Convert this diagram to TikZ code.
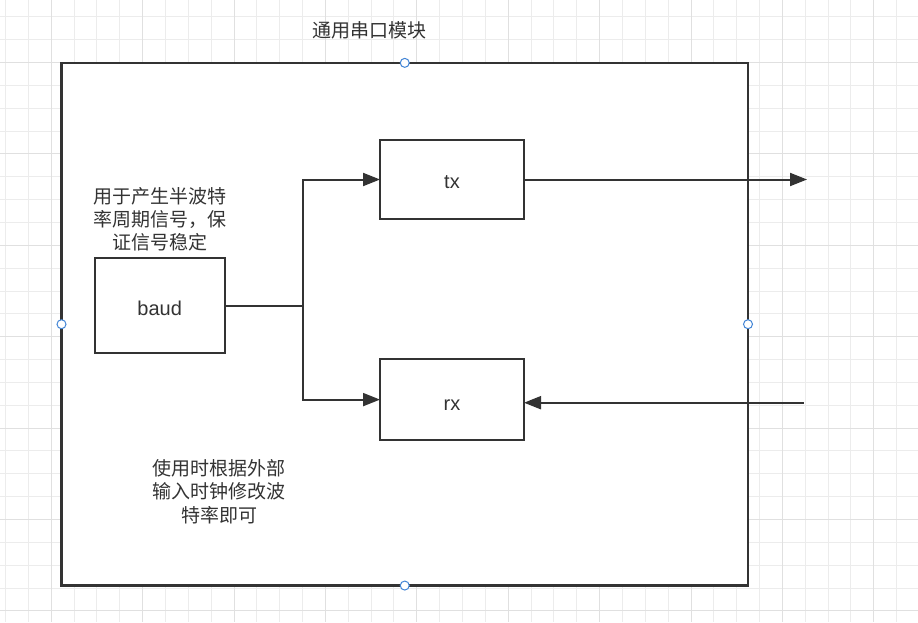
\documentclass[tikz,border=0pt]{standalone}
\usepackage{fontspec}
\setmainfont{Liberation Sans}
\newfontfamily\cjk{Noto Sans CJK SC}
\usetikzlibrary{arrows.meta}
\definecolor{ink}{RGB}{51,51,51}
\definecolor{gridminor}{RGB}{236,236,236}
\definecolor{gridmajor}{RGB}{224,224,224}
\definecolor{handle}{RGB}{66,133,214}
\tikzset{
  box/.style={draw=ink, line width=2pt, fill=white, outer sep=0pt, inner sep=0pt},
  frame/.style={draw=ink, line width=2.2pt, fill=white, outer sep=0pt, inner sep=0pt},
  label/.style={text=ink, yshift=-2.5pt, font=\fontsize{20}{24}\selectfont},
  note/.style={text=ink, align=center, inner sep=0pt, font=\cjk\fontsize{19}{23.3}\selectfont},
  wire/.style={draw=ink, line width=2pt},
  arrow/.style={wire, -{Triangle[length=17pt, width=13pt]}},
  grip/.style={draw=handle, fill=white, line width=1pt, circle, inner sep=0pt, minimum size=9pt}
}
\begin{document}
\begin{tikzpicture}[x=1pt, y=-1pt]
  \useasboundingbox (0,0) rectangle (918,622);
  \fill[white] (0,0) rectangle (918,622);

  % background grid, lines snapped to whole units; every fourth one stronger
  \foreach \i in {0,...,40} {
    \pgfmathsetmacro{\gx}{round(5.0+22.85*\i)+0.5}
    \draw[gridminor, line width=1pt] (\gx,0) -- (\gx,622);
  }
  \foreach \j in {0,...,27} {
    \pgfmathsetmacro{\gy}{round(16.3+22.85*\j)+0.5}
    \draw[gridminor, line width=1pt] (0,\gy) -- (918,\gy);
  }
  \foreach \i in {2,6,...,38} {
    \pgfmathsetmacro{\gx}{round(5.0+22.85*\i)+0.5}
    \draw[gridmajor, line width=1pt] (\gx,0) -- (\gx,622);
  }
  \foreach \j in {2,6,...,26} {
    \pgfmathsetmacro{\gy}{round(16.3+22.85*\j)+0.5}
    \draw[gridmajor, line width=1pt] (0,\gy) -- (918,\gy);
  }

  % module outline and title
  \node[frame, minimum width=686.5pt, minimum height=522.7pt] (module) at (404.75,324.2) {};
  \node[note] (title) at (369,30.5) {通用串口模块};

  % blocks
  \node[box, minimum width=130pt, minimum height=95.3pt] (baud) at (159.7,305.7) {};
  \node[label] (baudtxt) at (baud.center) {baud};
  \node[box, minimum width=144pt, minimum height=79.6pt] (tx) at (452,179.5) {};
  \node[label] (txtxt) at (tx.center) {tx};
  \node[box, minimum width=144pt, minimum height=80.7pt] (rx) at (452,399.6) {};
  \node[label] (rxtxt) at ([yshift=-3pt]rx.center) {rx};

  % notes
  \node[note] (baudnote) at (160,219.3) {用于产生半波特\\率周期信号，保\\证信号稳定};
  \node[note] (usage) at (219,491.5) {使用时根据外部\\输入时钟修改波\\特率即可};

  % connectors
  \coordinate (split) at (302.7,305.7);
  \coordinate (txout) at (807,179.5);
  \coordinate (rxin) at (803.5,402.7);
  \draw[wire] (baud.east) -- (split);
  \draw[arrow] (split) |- (tx.west);
  \draw[arrow] (split) |- (rx.west);
  \draw[arrow] (tx.east) -- (txout);
  \draw[arrow] (rxin) -- (rx.east |- rxin);

  % selection handles on the module outline
  \node[grip] (gn) at (module.north) {};
  \node[grip] (gs) at (module.south) {};
  \node[grip] (ge) at (module.east) {};
  \node[grip] (gw) at (module.west) {};
\end{tikzpicture}
\end{document}
